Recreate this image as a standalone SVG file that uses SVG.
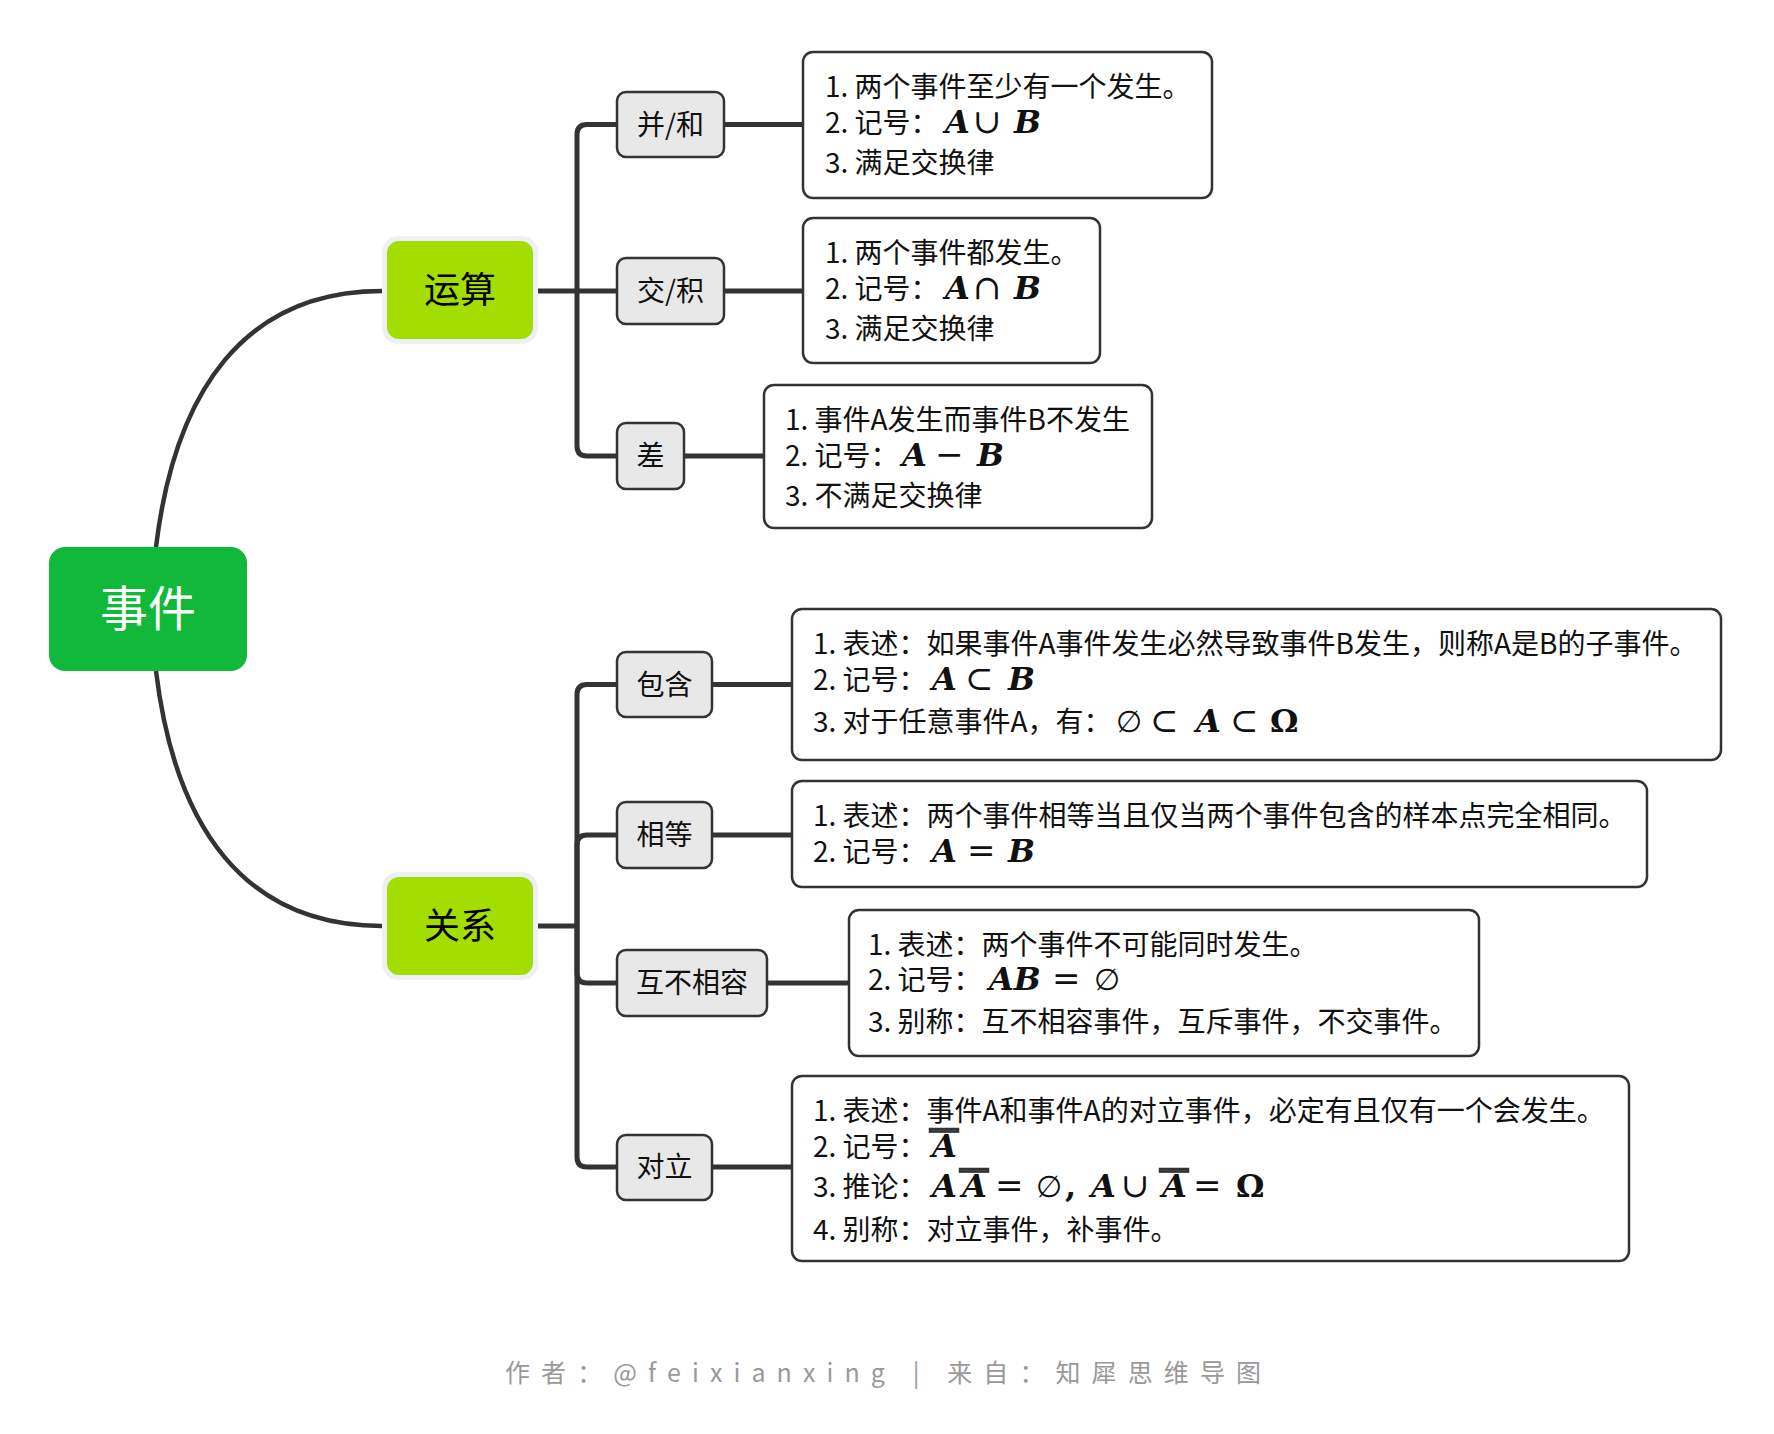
<svg xmlns="http://www.w3.org/2000/svg" width="1774" height="1434" viewBox="0 0 1774 1434">
<style>
.conn{fill:none;stroke:#333;stroke-width:5}
.curve{fill:none;stroke:#333;stroke-width:4.5}
text{font-family:"Noto Sans CJK SC","Noto Sans",sans-serif;fill:#111}
.t{font-size:28px}
.m{font-family:"DejaVu Serif",serif;font-size:32px;font-weight:bold;font-style:italic}
.mb{font-family:"DejaVu Serif",serif;font-size:32px;font-weight:bold}
.op{font-family:"DejaVu Serif",serif;font-size:34px}
.es{font-family:"DejaVu Serif",serif;font-size:30px}
.child rect{fill:#e8e8e8;stroke:#333;stroke-width:2.5}
.child text{font-size:28px;text-anchor:middle}
.detail rect{fill:#fff;stroke:#333;stroke-width:2.5}
.bar{fill:#111}
.main .halo{fill:#edf1f5}
.main .body{fill:#a4dd00}
.main text{font-size:36px;text-anchor:middle;fill:#000}
</style>
<rect width="1774" height="1434" fill="#fff"/>

<g id="connectors">
<path class="curve" d="M156,547 C175,390 245,291 382,291"/>
<path class="curve" d="M156,671 C175,828 245,926 382,926"/>
<path class="conn" d="M538,291 H617"/>
<path class="conn" d="M577,291 V134.5 Q577,124.5 587,124.5 H617"/>
<path class="conn" d="M577,291 V446 Q577,456 587,456 H617"/>
<path class="conn" d="M724,124.5 H803"/>
<path class="conn" d="M724,291 H803"/>
<path class="conn" d="M684,456 H764"/>
<path class="conn" d="M538,926 H577"/>
<path class="conn" d="M577,926 V694.5 Q577,684.5 587,684.5 H617"/>
<path class="conn" d="M577,926 V845 Q577,835 587,835 H617"/>
<path class="conn" d="M577,926 V973 Q577,983 587,983 H617"/>
<path class="conn" d="M577,926 V1157 Q577,1167 587,1167 H617"/>
<path class="conn" d="M712,684.5 H792"/>
<path class="conn" d="M712,835 H792"/>
<path class="conn" d="M767,983 H849"/>
<path class="conn" d="M712,1167 H792"/>
</g>

<g id="node-root">
<rect x="49" y="547" width="198" height="124" rx="16" fill="#12b83a"/>
<text x="148" y="626" text-anchor="middle" font-size="48" style="fill:#fff">事件</text>
</g>

<g id="node-yunsuan" class="main">
<rect class="halo" x="382" y="236" width="156" height="108" rx="16"/>
<rect class="body" x="387" y="241" width="146" height="98" rx="12"/>
<text x="460" y="303">运算</text>
</g>

<g id="node-guanxi" class="main">
<rect class="halo" x="382" y="872" width="156" height="108" rx="16"/>
<rect class="body" x="387" y="877" width="146" height="98" rx="12"/>
<text x="460" y="939">关系</text>
</g>

<g id="node-bing" class="child">
<rect x="617" y="92" width="107" height="65" rx="9"/>
<text x="670.5" y="134.5">并/和</text>
</g>
<g id="node-jiao" class="child">
<rect x="617" y="258" width="107" height="66" rx="9"/>
<text x="670.5" y="301">交/积</text>
</g>
<g id="node-cha" class="child">
<rect x="617" y="423" width="67" height="66" rx="9"/>
<text x="650.5" y="466">差</text>
</g>
<g id="node-baohan" class="child">
<rect x="617" y="652" width="95" height="65" rx="9"/>
<text x="664.5" y="694.5">包含</text>
</g>
<g id="node-xiangdeng" class="child">
<rect x="617" y="802" width="95" height="66" rx="9"/>
<text x="664.5" y="845">相等</text>
</g>
<g id="node-huburongrong" class="child">
<rect x="617" y="950" width="150" height="66" rx="9"/>
<text x="692" y="993">互不相容</text>
</g>
<g id="node-duili" class="child">
<rect x="617" y="1135" width="95" height="65" rx="9"/>
<text x="664.5" y="1177">对立</text>
</g>

<g id="detail-bing" class="detail">
<rect x="803" y="52" width="409" height="146" rx="10"/>
<text class="t"><tspan x="825" y="97">1. 两个事件至少有一个发生。</tspan><tspan x="825" y="133">2. 记号：</tspan><tspan class="m" x="945" y="133">A</tspan><tspan class="op" x="973" y="133">∪</tspan><tspan class="m" x="1014" y="133">B</tspan><tspan x="825" y="173">3. 满足交换律</tspan></text>
</g>

<g id="detail-jiao" class="detail">
<rect x="803" y="218" width="297" height="145" rx="10"/>
<text class="t"><tspan x="825" y="263">1. 两个事件都发生。</tspan><tspan x="825" y="299">2. 记号：</tspan><tspan class="m" x="945" y="299">A</tspan><tspan class="op" x="973" y="299">∩</tspan><tspan class="m" x="1014" y="299">B</tspan><tspan x="825" y="339">3. 满足交换律</tspan></text>
</g>

<g id="detail-cha" class="detail">
<rect x="764" y="385" width="388" height="143" rx="10"/>
<text class="t"><tspan x="785" y="430">1. 事件A发生而事件B不发生</tspan><tspan x="785" y="466">2. 记号：</tspan><tspan class="m" x="902" y="466">A</tspan><tspan class="op" x="935" y="466">−</tspan><tspan class="m" x="977" y="466">B</tspan><tspan x="785" y="506">3. 不满足交换律</tspan></text>
</g>

<g id="detail-baohan" class="detail">
<rect x="792" y="609" width="929" height="151" rx="10"/>
<text class="t"><tspan x="813" y="654">1. 表述：如果事件A事件发生必然导致事件B发生，则称A是B的子事件。</tspan><tspan x="813" y="690">2. 记号：</tspan><tspan class="m" x="932" y="690">A</tspan><tspan class="op" x="965" y="690">⊂</tspan><tspan class="m" x="1008" y="690">B</tspan><tspan x="813" y="732">3. 对于任意事件A，有：</tspan><tspan class="es" x="1116" y="732">∅</tspan><tspan class="op" x="1150" y="732">⊂</tspan><tspan class="m" x="1196" y="732">A</tspan><tspan class="op" x="1230" y="732">⊂</tspan><tspan class="mb" x="1270" y="732">Ω</tspan></text>
</g>

<g id="detail-xiangdeng" class="detail">
<rect x="792" y="781" width="855" height="106" rx="10"/>
<text class="t"><tspan x="813" y="826">1. 表述：两个事件相等当且仅当两个事件包含的样本点完全相同。</tspan><tspan x="813" y="862">2. 记号：</tspan><tspan class="m" x="932" y="862">A</tspan><tspan class="op" x="967" y="862">=</tspan><tspan class="m" x="1008" y="862">B</tspan></text>
</g>

<g id="detail-huburongrong" class="detail">
<rect x="849" y="910" width="630" height="146" rx="10"/>
<text class="t"><tspan x="868" y="955">1. 表述：两个事件不可能同时发生。</tspan><tspan x="868" y="990">2. 记号：</tspan><tspan class="m" x="989" y="990">AB</tspan><tspan class="op" x="1052" y="990">=</tspan><tspan class="es" x="1094" y="990">∅</tspan><tspan x="868" y="1032">3. 别称：互不相容事件，互斥事件，不交事件。</tspan></text>
</g>

<g id="detail-duili" class="detail">
<rect x="792" y="1076" width="837" height="185" rx="10"/>
<text class="t"><tspan x="813" y="1121">1. 表述：事件A和事件A的对立事件，必定有且仅有一个会发生。</tspan><tspan x="813" y="1157">2. 记号：</tspan><tspan class="m" x="932" y="1157">A</tspan><tspan x="813" y="1197">3. 推论：</tspan><tspan class="m" x="932" y="1197">A</tspan><tspan class="m" x="962" y="1197">A</tspan><tspan class="op" x="995" y="1197">=</tspan><tspan class="es" x="1036" y="1197">∅</tspan><tspan class="mb" x="1065" y="1197">,</tspan><tspan class="m" x="1091" y="1197">A</tspan><tspan class="op" x="1121" y="1197">∪</tspan><tspan class="m" x="1162" y="1197">A</tspan><tspan class="op" x="1193" y="1197">=</tspan><tspan class="mb" x="1236" y="1197">Ω</tspan><tspan x="813" y="1240">4. 别称：对立事件，补事件。</tspan></text>
<rect class="bar" x="930" y="1129" width="28" height="2.6"/>
<rect class="bar" x="960" y="1169" width="28" height="2.6"/>
<rect class="bar" x="1160" y="1169" width="28" height="2.6"/>
</g>

<g id="footer">
<text x="505" y="1382" font-size="25" style="fill:#999" textLength="756" lengthAdjust="spacing">作者：@feixianxing | 来自：知犀思维导图</text>
</g>
</svg>
